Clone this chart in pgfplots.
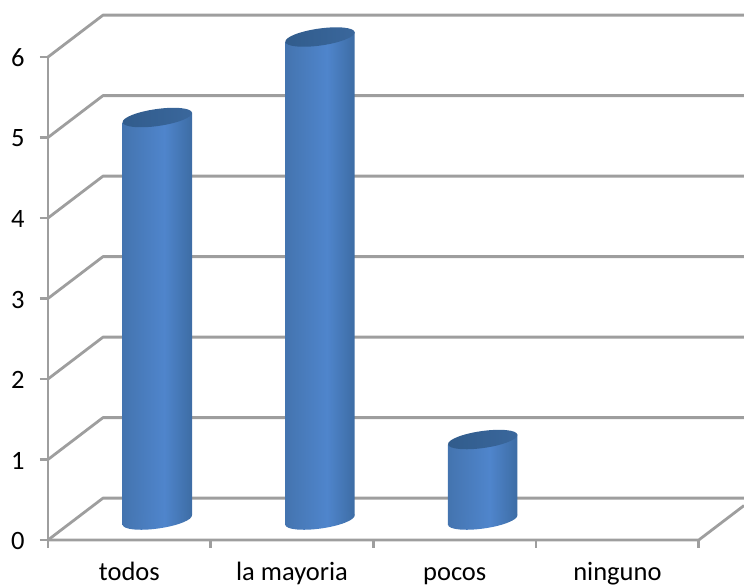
\documentclass[border=0pt]{standalone}
\usepackage{fontspec}
\setmainfont{Carlito}
\usepackage{pgfplots}
\pgfplotsset{compat=1.18}
\usepackage{pgfplotstable}
\usetikzlibrary{shapes.geometric}

\definecolor{gridgrey}{HTML}{9E9E9E}
\definecolor{cylEdge}{HTML}{2A4E78}
\definecolor{cylShade}{HTML}{3C6BA2}
\definecolor{cylMid}{HTML}{4677B4}
\definecolor{cylLight}{HTML}{4F85CC}
\definecolor{cylDim}{HTML}{335A88}
\definecolor{capA}{HTML}{315C8C}
\definecolor{capB}{HTML}{3A679C}
\pgfdeclarehorizontalshading{cylbody}{100bp}{
  color(0bp)=(cylEdge);
  color(12bp)=(cylShade);
  color(30bp)=(cylMid);
  color(55bp)=(cylLight);
  color(76bp)=(cylShade);
  color(92bp)=(cylDim);
  color(100bp)=(cylEdge)}

% one row per category; the cylinders stand at depth in front of the back wall
\pgfplotstableread{
pos value base
0   5     0
1   6     0
2   1     0
3   0     0
}\answers

\newcommand{\labelfont}{\fontsize{26.5}{30}\selectfont}

\pgfplotsset{
  cylinder end/.style={
    only marks, mark=none, forget plot,
    restrict x to domain=0:2,
    nodes near coords={},
    every node near coord/.style={
      ellipse, inner sep=0pt, minimum width=70pt, minimum height=17pt,
      anchor=center, rotate=8, draw=none, #1},
  },
  cylinder body/.style={draw=none, shade, shading=cylbody, forget plot},
}

\begin{document}
\begin{tikzpicture}
\path[use as bounding box] (-48pt,-46pt) rectangle (696pt,540pt);

% floor, left wall and gridlines
\begin{axis}[
  at={(0pt,0pt)}, anchor=south west,
  scale only axis, width=696pt, height=540pt,
  xmin=0, xmax=4.278, ymin=0, ymax=6.708,
  clip=false,
  axis line style={draw=none},
  tick style={gridgrey, line width=2.8pt},
  tick align=outside,
  major tick length=8pt,
  xtick={0,1,2,3,4}, xticklabels={},
  ytick={0,1,2,3,4,5,6},
  xtick pos=bottom, ytick pos=left,
  extra x ticks={0.5,1.5,2.5,3.5},
  extra x tick labels={todos,la mayoria,pocos,ninguno},
  extra x tick style={major tick length=0pt, tick style={draw=none},
    xticklabel style={anchor=north, text height=18pt, text depth=6pt, yshift=-19pt}},
  /pgf/number format/assume math mode=true,
  tick label style={font=\labelfont, text=black},
  yticklabel style={xshift=-12pt, yshift=-1pt},
]
\pgfplotsinvokeforeach{0,1,2,3,4,5,6}{
  \addplot[gridgrey, line width=2.8pt, line join=round, forget plot]
    coordinates {(0,#1) (0.338,#1+0.52) (4.278,#1+0.52)};
}
\addplot[gridgrey, line width=2.8pt, forget plot] coordinates {(0,0) (0,6)};
\addplot[gridgrey, line width=2.8pt, line join=round, forget plot]
  coordinates {(0,0) (4,0) (4.278,0.428)};
\end{axis}

% cylinders: y = 0 sits on the mid-depth plane of the floor
\begin{axis}[
  at={(0pt,0pt)}, anchor=south west,
  scale only axis, width=696pt, height=540pt,
  xmin=-0.6718, xmax=3.606, ymin=-0.248, ymax=6.46,
  clip=false, hide axis,
]
% rounded feet
\addplot[cylinder end={shade, shading=cylbody}]
  table[x=pos, y=base] {\answers};
% bodies
\addplot[cylinder body]
  coordinates {(-0.2135,-0.062) (-0.2135,4.938) (0.2135,5.062) (0.2135,0.062)} --cycle;
\addplot[cylinder body]
  coordinates {(0.7865,-0.062) (0.7865,5.938) (1.2135,6.062) (1.2135,0.062)} --cycle;
\addplot[cylinder body]
  coordinates {(1.7865,-0.062) (1.7865,0.938) (2.2135,1.062) (2.2135,0.062)} --cycle;
% lids
\addplot[cylinder end={left color=capA, right color=capB}]
  table[x=pos, y=value] {\answers};
\end{axis}
\end{tikzpicture}
\end{document}
